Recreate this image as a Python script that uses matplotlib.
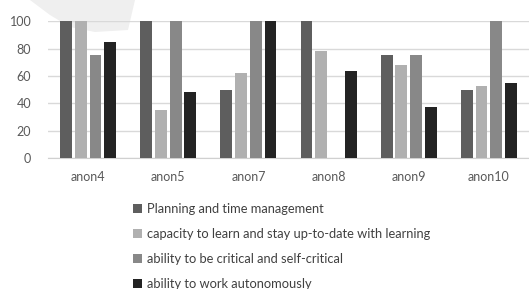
import matplotlib
matplotlib.use("Agg")
import matplotlib.pyplot as plt
import numpy as np
from matplotlib.patches import Polygon

categories = ["anon4", "anon5", "anon7", "anon8", "anon9", "anon10"]
series_names = [
    "Planning and time management",
    "capacity to learn and stay up-to-date with learning",
    "ability to be critical and self-critical",
    "ability to work autonomously",
]
planning = [100, 100, 50, 100, 75, 50]
capacity = [100, 35, 62, 78, 68, 53]
critical = [75, 100, 100, 0, 75, 100]
autonomous = [85, 48, 100, 64, 37, 55]
series = [planning, capacity, critical, autonomous]
colors = ["#5e5e5e", "#b0b0b0", "#888888", "#232323"]
yticks = [0, 20, 40, 60, 80, 100]

plt.rcParams['font.family'] = ['Lato', 'DejaVu Sans']

W, H = 529, 289
fig = plt.figure(figsize=(W / 100, H / 100), dpi=100)

# faint watermark shape at top-left (background)
bg = fig.add_axes([0, 0, 1, 1], zorder=-1)
bg.set_xlim(0, W)
bg.set_ylim(H, 0)
bg.axis("off")
bg.add_patch(Polygon([[30, 0], [135, 0], [128, 30], [95, 32], [70, 27], [50, 15]],
                     closed=True, facecolor="#efefef", edgecolor="none"))

ax = fig.add_axes([48 / W, 1 - 158 / H, (W - 48) / W, (158 - 21.3) / H])
ax.set_facecolor("none")
x = np.arange(len(categories))
bw = 12 / 81.5
pitch = 15 / 81.5
for i, (vals, c, name) in enumerate(zip(series, colors, series_names)):
    ax.bar(x + (i - 1.5) * pitch, vals, width=bw, color=c, label=name, zorder=3)

ax.set_xlim(-0.5, len(categories) - 0.5)
ax.set_ylim(0, 100)
ax.set_yticks(yticks)
ax.set_xticks(x)
ax.set_xticklabels(categories)
ax.yaxis.grid(True, color="#d9d9d9", linewidth=1, zorder=0)
for s in ["top", "right", "left"]:
    ax.spines[s].set_visible(False)
ax.spines["bottom"].set_color("#d0d0d0")
ax.tick_params(axis="both", length=0, labelsize=9, colors="#595959")
ax.tick_params(axis="x", pad=9)
ax.tick_params(axis="y", pad=12)

handles, labels = ax.get_legend_handles_labels()
leg = fig.legend(handles, labels, loc="upper left", bbox_to_anchor=(128 / W, 1 - 198 / H),
                 frameon=False, fontsize=9.3, handlelength=0.65, handleheight=0.65,
                 handletextpad=0.4, labelspacing=1.0, labelcolor="#404040",
                 borderaxespad=0)

fig.savefig("out.png", dpi=100)
